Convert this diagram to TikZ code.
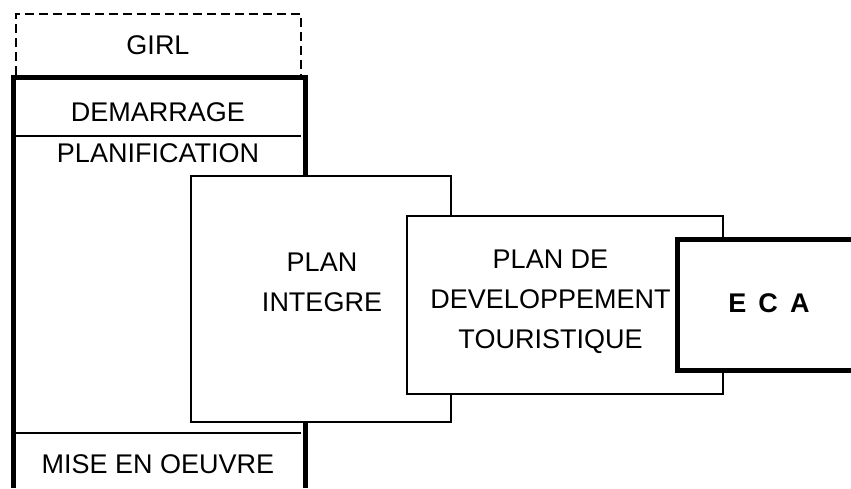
\documentclass[tikz,border=0pt]{standalone}
\usepackage{fontspec}
\setmainfont{Liberation Sans}
\usetikzlibrary{positioning}
\tikzset{every picture/.style={line join=miter},
  txt/.style={font=\fontsize{27}{40}\selectfont,align=center,inner sep=0pt},
  boldtxt/.style={txt,font=\fontsize{27}{40}\selectfont\bfseries},
  thinbox/.style={draw,line width=1.3pt,fill=white,inner sep=0pt},
  thickline/.style={line width=5pt},
  divider/.style={line width=1.3pt},
  optional/.style={line width=2.2pt,dash pattern=on 9pt off 5pt}}

\begin{document}
\begin{tikzpicture}[x=1pt,y=-1pt]
  \useasboundingbox (0,0) rectangle (851,488);
  % GIRL (optionnel)
  \draw [optional] (16,75) -- (16,14) -- (301,14) -- (301,75);
  \node (girl) [txt] at (158,45) {GIRL};
  % cadre principal, ouvert en bas
  \draw [thickline] (13,488) -- (13,77) -- (305.5,77) -- (305.5,488);
  \node (dem) [txt] at (158,112.5) {DEMARRAGE};
  \draw [divider] (16,136) -- (301,136);
  \node (planif) [txt] at (158,153.5) {PLANIFICATION};
  \draw [divider] (16,433) -- (301,433);
  \node (mise) [txt] at (158,464.5) {MISE EN OEUVRE};
  % plans
  \node (pi) [thinbox, minimum width=260pt, minimum height=246pt] at (321,299) {};
  \node (pitxt) [txt] at (322,282) {PLAN\\INTEGRE};
  \node (pdt) [thinbox, minimum width=316pt, minimum height=178pt] at (565,305) {};
  \node (pdttxt) [txt] at (550.5,302) {PLAN DE\\DEVELOPPEMENT\\TOURISTIQUE};
  % ECA, ouvert a droite
  \fill [white] (677,239.5) rectangle (851,370.5);
  \draw [thickline] (851,239.5) -- (677,239.5) -- (677,370.5) -- (851,370.5);
  \node (eca) [boldtxt] at (769,303.5) {E\hspace{.45em}C\hspace{.45em}A};
\end{tikzpicture}
\end{document}
